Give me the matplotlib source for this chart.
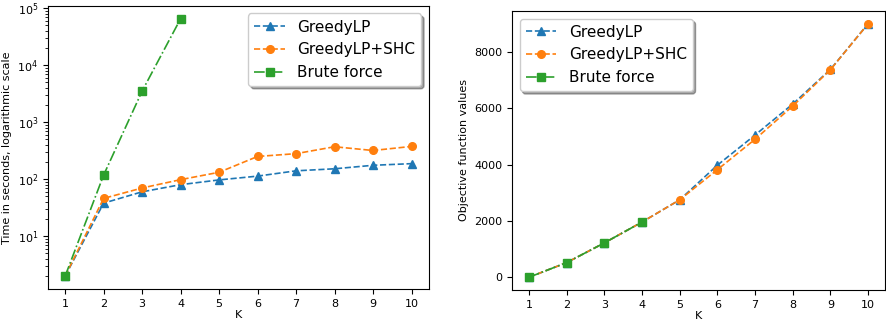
import numpy as np
import matplotlib
matplotlib.use("Agg")
import matplotlib.pyplot as plt

# data
k = [1, 2, 3, 4, 5, 6, 7, 8, 9, 10]
k_brute = [1, 2, 3, 4]

time_greedy = [2, 38, 60, 80, 97, 113, 140, 152, 175, 187]
time_shc = [2, 46, 70, 98, 132, 250, 280, 370, 318, 375]
time_brute = [2, 118, 3500, 65000]

obj_greedy = [0, 520, 1220, 1960, 2750, 3980, 5050, 6150, 7380, 9000]
obj_shc = [0, 520, 1220, 1960, 2750, 3820, 4900, 6080, 7370, 9000]
obj_brute = [0, 520, 1220, 1960]

labels = ["GreedyLP", "GreedyLP+SHC", "Brute force"]

plt.rcParams["font.family"] = "DejaVu Sans"
plt.rcParams["lines.markersize"] = 5.5
plt.rcParams["lines.linewidth"] = 1.2

fig = plt.figure(figsize=(8.86, 3.25), dpi=100)
ax1 = fig.add_axes([0.054, 0.111, 0.430, 0.871])
ax2 = fig.add_axes([0.578, 0.108, 0.421, 0.858])

#left plot: running time
ax1.plot(k, time_greedy, marker='^', linestyle='--', color='#1f77b4', label=labels[0])
ax1.plot(k, time_shc, marker='o', linestyle='--', color='#ff7f0e', label=labels[1])
ax1.plot(k_brute, time_brute, marker='s', linestyle='-.', color='#2ca02c', label=labels[2])
ax1.set_yscale('log')
ax1.set_xlabel('K', fontsize=8, labelpad=1)
ax1.set_ylabel('Time in seconds, logarithmic scale', fontsize=8)
ax1.set_xticks(k)
ax1.tick_params(labelsize=8)
ax1.legend(loc='upper right', fontsize=11, shadow=True, framealpha=1)

#right plot: objective values
ax2.plot(k, obj_greedy, marker='^', linestyle='--', color='#1f77b4', label=labels[0])
ax2.plot(k, obj_shc, marker='o', linestyle='--', color='#ff7f0e', label=labels[1])
ax2.plot(k_brute, obj_brute, marker='s', linestyle='-.', color='#2ca02c', label=labels[2])
ax2.set_xlabel('K', fontsize=8, labelpad=1)
ax2.set_ylabel('Objective function values', fontsize=8)
ax2.set_xticks(k)
ax2.tick_params(labelsize=8)
ax2.legend(loc='upper left', fontsize=11, shadow=True, framealpha=1)

fig.savefig('out.png', dpi=100)
